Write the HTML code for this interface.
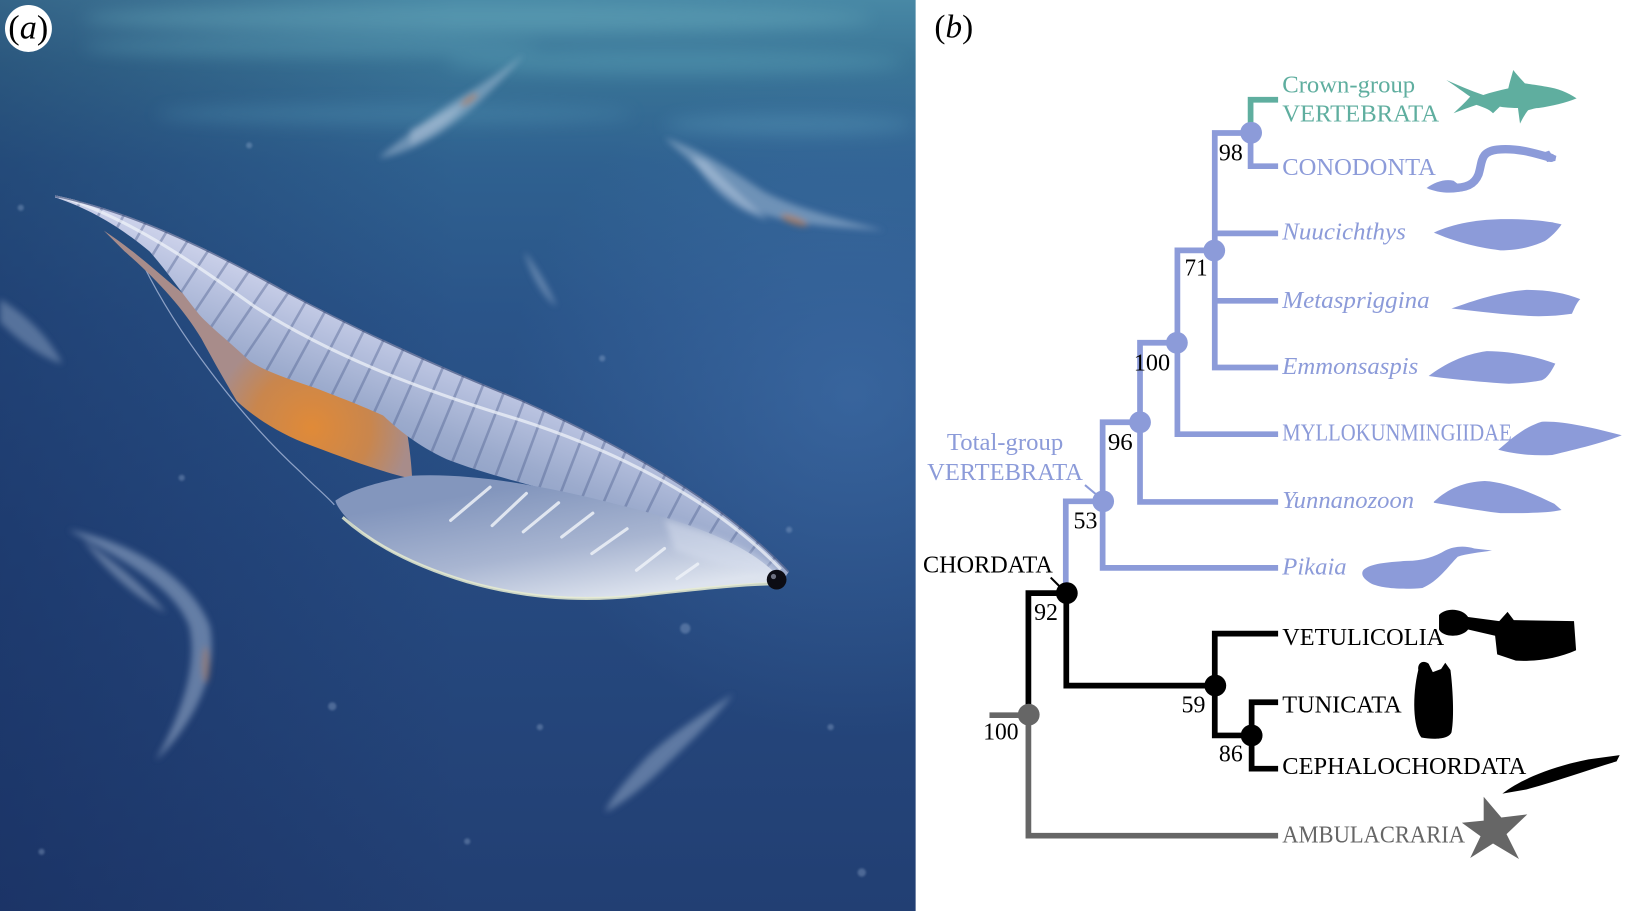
<!DOCTYPE html>
<html>
<head>
<meta charset="utf-8">
<style>
html,body{margin:0;padding:0;background:#fff;}
body{width:1628px;height:911px;overflow:hidden;}
svg{display:block;}
text{font-family:"Liberation Serif","Times New Roman",serif;}
</style>
</head>
<body>
<svg width="1628" height="911" viewBox="0 0 1568 877" preserveAspectRatio="none" xmlns="http://www.w3.org/2000/svg">
<defs>
  <linearGradient id="bg" x1="0" y1="0" x2="0" y2="1">
    <stop offset="0" stop-color="#4888a5"/>
    <stop offset="0.07" stop-color="#3a7597"/>
    <stop offset="0.18" stop-color="#2f6190"/>
    <stop offset="0.35" stop-color="#2a5489"/>
    <stop offset="0.6" stop-color="#264a80"/>
    <stop offset="1" stop-color="#223f73"/>
  </linearGradient>
  <linearGradient id="leftdark" x1="0" y1="0" x2="1" y2="0">
    <stop offset="0" stop-color="#0f2050" stop-opacity="0.35"/>
    <stop offset="0.5" stop-color="#0f2050" stop-opacity="0"/>
  </linearGradient>
  <radialGradient id="rightglow" cx="820" cy="380" r="330" gradientUnits="userSpaceOnUse">
    <stop offset="0" stop-color="#4a7cb8" stop-opacity="0.45"/>
    <stop offset="1" stop-color="#4a7cb8" stop-opacity="0"/>
  </radialGradient>
  <filter id="blur8" x="-50%" y="-50%" width="200%" height="200%"><feGaussianBlur stdDeviation="8"/></filter>
  <filter id="blur3" x="-50%" y="-50%" width="200%" height="200%"><feGaussianBlur stdDeviation="3"/></filter>
  <filter id="blur1" x="-20%" y="-20%" width="140%" height="140%"><feGaussianBlur stdDeviation="1"/></filter>
  <linearGradient id="bandg" x1="470" y1="330" x2="420" y2="460" gradientUnits="userSpaceOnUse">
    <stop offset="0" stop-color="#d3d7ee"/>
    <stop offset="0.35" stop-color="#b6c0de"/>
    <stop offset="0.7" stop-color="#9cabcd"/>
    <stop offset="1" stop-color="#8d9fc4"/>
  </linearGradient>
  <linearGradient id="lobeg" x1="520" y1="465" x2="540" y2="585" gradientUnits="userSpaceOnUse">
    <stop offset="0" stop-color="#8396bd"/>
    <stop offset="0.55" stop-color="#a8b5d1"/>
    <stop offset="1" stop-color="#dde3ee"/>
  </linearGradient>
  <radialGradient id="gutg" cx="300" cy="412" r="95" gradientUnits="userSpaceOnUse">
    <stop offset="0" stop-color="#e08a38"/>
    <stop offset="0.6" stop-color="#c9864d"/>
    <stop offset="1" stop-color="#a88c8a"/>
  </radialGradient>
  <clipPath id="bandclip">
    <path d="M53,188 C110,200 176,225 273,279 C340,315 420,352 500,384 C580,420 690,475 760,550 L752,562 C720,540 660,512 600,492 C540,474 470,458 430,442 C400,428 382,412 369,400 C340,387 320,380 305,374 C275,364 255,357 241,348 C220,328 205,317 192,303 C175,282 160,260 144,242 C120,222 90,202 53,190 Z"/>
  </clipPath>
</defs>

<!-- ============ PANEL A (painting) ============ -->
<rect x="0" y="0" width="882" height="877" fill="url(#bg)"/>
<rect x="0" y="0" width="882" height="877" fill="url(#leftdark)"/>
<rect x="0" y="0" width="882" height="877" fill="url(#rightglow)"/>
<g filter="url(#blur8)" opacity="0.38">
  <ellipse cx="460" cy="18" rx="380" ry="14" fill="#6fb3c2"/>
  <ellipse cx="300" cy="45" rx="220" ry="10" fill="#5ea3b8"/>
  <ellipse cx="650" cy="60" rx="220" ry="12" fill="#5ea6bc"/>
  <ellipse cx="380" cy="110" rx="230" ry="10" fill="#4f8fb0"/>
  <ellipse cx="760" cy="120" rx="120" ry="10" fill="#5b9cbb"/>
</g>
<g filter="url(#blur3)">
  <path d="M505,52 C480,72 452,88 430,102 C402,122 378,140 365,152 C380,150 402,142 424,128 C450,110 475,88 505,52 Z" fill="#b9cbe0" opacity="0.45"/>
  <path d="M395,125 C410,118 430,108 448,98 C440,112 420,128 395,140 Z" fill="#c6d3e6" opacity="0.4"/>
  <ellipse cx="452" cy="96" rx="10" ry="3" transform="rotate(-35 452 96)" fill="#c47a4a" opacity="0.6"/>
  <path d="M640,133 C660,150 690,180 720,200 C760,218 805,218 852,222 C805,210 765,200 735,184 C705,164 672,142 640,133 Z" fill="#b9cbe0" opacity="0.45"/>
  <path d="M665,150 C680,175 700,200 740,212 C720,195 700,175 680,155 Z" fill="#c8d5e8" opacity="0.45"/>
  <ellipse cx="765" cy="212" rx="14" ry="4" transform="rotate(20 765 212)" fill="#c47a4a" opacity="0.6"/>
  <path d="M66,510 C120,520 182,552 202,602 C212,652 182,702 150,732 C172,692 192,642 182,602 C166,562 112,536 66,510 Z" fill="#a8bcd8" opacity="0.5"/>
  <path d="M80,520 C110,540 140,565 160,590 C140,580 110,560 80,520 Z" fill="#c0cfe4" opacity="0.4"/>
  <ellipse cx="198" cy="640" rx="4" ry="18" fill="#b07a5a" opacity="0.5"/>
  <path d="M706,668 C672,690 642,710 622,730 C602,752 587,770 583,782 C602,772 622,756 642,736 C667,712 690,690 706,668 Z" fill="#a8bcd8" opacity="0.45"/>
  <path d="M505,242 C515,255 528,275 536,295 C522,285 510,262 505,242 Z" fill="#a8bcd8" opacity="0.45"/>
  <path d="M0,288 C20,300 45,320 60,350 C40,345 15,325 0,310 Z" fill="#a8bcd8" opacity="0.4"/>
</g>
<g fill="#9fb6d6" opacity="0.35" filter="url(#blur1)">
  <circle cx="240" cy="140" r="3"/><circle cx="580" cy="345" r="3"/><circle cx="660" cy="605" r="5"/>
  <circle cx="175" cy="460" r="3"/><circle cx="320" cy="680" r="4"/><circle cx="830" cy="840" r="4"/>
  <circle cx="760" cy="510" r="3"/><circle cx="20" cy="200" r="3"/><circle cx="450" cy="810" r="3"/>
  <circle cx="520" cy="700" r="3"/><circle cx="40" cy="820" r="3"/><circle cx="800" cy="700" r="3"/>
</g>

<!-- main creature -->
<path d="M138,255 C170,320 230,400 290,455 C305,470 315,478 322,486" fill="none" stroke="#a8b8d8" stroke-width="1.2" opacity="0.8"/>
<!-- orange gut (tucked under band) -->
<path d="M100,222 C135,245 162,272 188,292 C215,318 240,336 270,350 C310,362 350,375 388,392 C393,420 396,440 397,461 C370,455 337,443 300,429 C270,418 245,402 228,386 C219,371 207,350 194,326 C176,296 150,268 120,242 Z" fill="url(#gutg)"/>
<!-- band -->
<path d="M53,188 C110,200 176,225 273,279 C340,315 420,352 500,384 C580,420 690,475 760,550 L752,562 C720,540 660,512 600,492 C540,474 470,458 430,442 C400,428 382,412 369,400 C340,387 320,380 305,374 C275,364 255,357 241,348 C220,328 205,317 192,303 C175,282 160,260 144,242 C120,222 90,202 53,190 Z" fill="url(#bandg)"/>
<g clip-path="url(#bandclip)">
  <path d="M55,188 C130,218 200,268 262,310 C332,352 420,392 530,432 C620,465 700,505 752,552" fill="none" stroke="#4a5d8c" stroke-opacity="0.4" stroke-width="120" stroke-dasharray="2.5 19"/>
  <path d="M55,188 C125,210 185,252 245,295 C315,340 400,374 500,404 C600,436 690,484 752,548" fill="none" stroke="#eef1f8" stroke-opacity="0.75" stroke-width="3"/>
  <path d="M53,188 C110,200 176,225 273,279 C340,315 420,352 500,384 C580,420 690,475 760,550" fill="none" stroke="#2d3f6e" stroke-opacity="0.6" stroke-width="3"/>
</g>
<!-- pale ventral lobe -->
<path d="M323,482 C340,470 370,463 396,458 C450,455 520,466 600,487 C680,507 730,530 754,560 C720,562 680,566 626,572 C580,578 520,580 450,560 C400,545 360,525 340,505 C330,495 324,487 323,482 Z" fill="url(#lobeg)"/>
<path d="M330,498 C360,525 400,545 450,560 C520,580 580,578 626,572 C680,566 720,562 750,562" fill="none" stroke="#e7ecd0" stroke-width="3" opacity="0.85"/>
<path d="M640,500 C690,515 730,530 756,556 C730,552 690,545 650,530 Z" fill="#d5dded" opacity="0.55" filter="url(#blur3)"/>
<g stroke="#eef2f8" stroke-width="3" stroke-linecap="round" opacity="0.85">
  <line x1="434" y1="501" x2="472" y2="469"/>
  <line x1="474" y1="506" x2="507" y2="475"/>
  <line x1="504" y1="512" x2="538" y2="484"/>
  <line x1="541" y1="517" x2="571" y2="494"/>
  <line x1="570" y1="533" x2="604" y2="509"/>
  <line x1="613" y1="549" x2="640" y2="528"/>
  <line x1="652" y1="557" x2="672" y2="543"/>
</g>
<circle cx="748" cy="558" r="9.5" fill="#0c0c14"/>
<circle cx="745" cy="555" r="2.5" fill="#6d7080"/>

<!-- (a) label -->
<circle cx="27.4" cy="27.4" r="22.6" fill="#ffffff"/>
<text x="8" y="37" font-size="33" fill="#000">(<tspan font-style="italic">a</tspan>)</text>

<!-- ============ PANEL B (tree) ============ -->
<rect x="882" y="0" width="686" height="877" fill="#ffffff"/>
<text x="900" y="36" font-size="32" fill="#000">(<tspan font-style="italic">b</tspan>)</text>

<g fill="none" stroke-width="5.5" stroke-linejoin="miter" stroke-linecap="butt">
  <path d="M1204.5,128 V96 H1231" stroke="#5fae9f"/>
  <g stroke="#8c9bd9">
    <path d="M1204.5,128 V160 H1231"/>
    <path d="M1205,128 H1170 V353.8 H1231"/>
    <path d="M1170,224.7 H1231"/>
    <path d="M1170,289.6 H1231"/>
    <path d="M1170,241 H1134 V418 H1231"/>
    <path d="M1134,330 H1098 V483.2 H1231"/>
    <path d="M1098,406.5 H1062 V546.7 H1231"/>
    <path d="M1062.5,482.6 H1026.5 V571"/>
  </g>
  <g stroke="#000">
    <path d="M1027,571 V660 H1170"/>
    <path d="M1231,610 H1170 V708 H1205.5"/>
    <path d="M1231,676 H1205.5 V740 H1231"/>
    <path d="M1027,571 H990.5 V688"/>
  </g>
  <path d="M953,688.5 H990.5 V804.5 H1231" stroke="#666666"/>
</g>
<line x1="1045" y1="467" x2="1057" y2="477" stroke="#8c9bd9" stroke-width="2"/>
<line x1="1012" y1="556" x2="1021" y2="565" stroke="#000" stroke-width="2"/>

<g fill="#8c9bd9">
  <circle cx="1205" cy="127.8" r="10.5"/>
  <circle cx="1169.5" cy="241.2" r="10.5"/>
  <circle cx="1133.5" cy="330" r="10.5"/>
  <circle cx="1098" cy="406.5" r="10.5"/>
  <circle cx="1062.5" cy="482.6" r="10.5"/>
</g>
<g fill="#000">
  <circle cx="1027.5" cy="571" r="10.5"/>
  <circle cx="1170.5" cy="660" r="10.5"/>
  <circle cx="1205.5" cy="708" r="10.5"/>
</g>
<circle cx="990.8" cy="688" r="10.5" fill="#666666"/>

<g font-size="23" fill="#000">
  <text x="1174" y="154.5" textLength="23" lengthAdjust="spacingAndGlyphs">98</text>
  <text x="1141" y="265" textLength="22" lengthAdjust="spacingAndGlyphs">71</text>
  <text x="1092" y="356.5" textLength="35" lengthAdjust="spacingAndGlyphs">100</text>
  <text x="1067" y="433" textLength="24" lengthAdjust="spacingAndGlyphs">96</text>
  <text x="1034" y="509" textLength="23" lengthAdjust="spacingAndGlyphs">53</text>
  <text x="996" y="597" textLength="23" lengthAdjust="spacingAndGlyphs">92</text>
  <text x="1138" y="686" textLength="23" lengthAdjust="spacingAndGlyphs">59</text>
  <text x="1174" y="733" textLength="23" lengthAdjust="spacingAndGlyphs">86</text>
  <text x="947" y="712" textLength="34" lengthAdjust="spacingAndGlyphs">100</text>
</g>

<g font-size="23">
  <text x="912" y="433" fill="#8c9bd9" textLength="112" lengthAdjust="spacingAndGlyphs">Total-group</text>
  <text x="893" y="462" fill="#8c9bd9" textLength="150" lengthAdjust="spacingAndGlyphs">VERTEBRATA</text>
  <text x="889" y="551" fill="#000" textLength="125" lengthAdjust="spacingAndGlyphs">CHORDATA</text>
</g>

<g font-size="23">
  <text x="1235" y="89" fill="#5fae9f" textLength="128" lengthAdjust="spacingAndGlyphs">Crown-group</text>
  <text x="1235" y="117" fill="#5fae9f" textLength="151" lengthAdjust="spacingAndGlyphs">VERTEBRATA</text>
  <text x="1235" y="168.5" fill="#8c9bd9" textLength="148" lengthAdjust="spacingAndGlyphs">CONODONTA</text>
  <text x="1235" y="230.5" fill="#8c9bd9" font-style="italic" textLength="119" lengthAdjust="spacingAndGlyphs">Nuucichthys</text>
  <text x="1235" y="296.5" fill="#8c9bd9" font-style="italic" textLength="142" lengthAdjust="spacingAndGlyphs">Metaspriggina</text>
  <text x="1235" y="360" fill="#8c9bd9" font-style="italic" textLength="131" lengthAdjust="spacingAndGlyphs">Emmonsaspis</text>
  <text x="1235" y="424" fill="#8c9bd9" textLength="221" lengthAdjust="spacingAndGlyphs">MYLLOKUNMINGIIDAE</text>
  <text x="1235" y="489" fill="#8c9bd9" font-style="italic" textLength="127" lengthAdjust="spacingAndGlyphs">Yunnanozoon</text>
  <text x="1235" y="553" fill="#8c9bd9" font-style="italic" textLength="62" lengthAdjust="spacingAndGlyphs">Pikaia</text>
  <text x="1235" y="621" fill="#000" textLength="156" lengthAdjust="spacingAndGlyphs">VETULICOLIA</text>
  <text x="1235" y="686" fill="#000" textLength="115" lengthAdjust="spacingAndGlyphs">TUNICATA</text>
  <text x="1235" y="745" fill="#000" textLength="235" lengthAdjust="spacingAndGlyphs">CEPHALOCHORDATA</text>
  <text x="1235" y="811" fill="#666666" textLength="176" lengthAdjust="spacingAndGlyphs">AMBULACRARIA</text>
</g>

<!-- silhouettes -->
<path fill="#5fae9f" d="M1393,77 C1402,83 1410,89 1416,93 C1411,99 1405,104 1400,109 C1408,106 1416,103 1422,101 C1428,103 1434,105 1438,109 L1444.6,102.7 C1452,104 1458,104 1462,104 L1464,119 C1467,113 1470,108 1472,106 C1476,105 1479,104 1482,104 C1495,102 1508,99 1518.5,94.7 C1510,89 1500,85 1489.6,83.5 C1482,82 1474,81 1468.7,80.3 C1464,75 1460,71 1457.5,67.4 C1456,73 1454,79 1452.7,85.1 C1444,87 1436,89 1428.6,91.5 C1416,87 1404,82 1393,77 Z"/>
<path d="M1398,181 C1412,181 1420,178 1424,168 C1428,156 1425,146 1442,144 C1462,142 1480,148 1494,152" fill="none" stroke="#8c9bd9" stroke-width="8" stroke-linecap="round"/>
<path fill="#8c9bd9" d="M1374,181 C1382,175 1392,172 1400,174 L1412,183 C1400,187 1385,186 1374,181 Z"/>
<path fill="#8c9bd9" d="M1486,147 L1492,145 L1494,148 L1499,150 L1498,155 L1490,156 Z"/>
<path fill="#8c9bd9" d="M1381,224 C1400,215 1425,211 1450,211 C1475,211 1492,213 1504,216 C1500,222 1494,228 1488,232 C1475,238 1460,241 1445,241 C1420,238 1400,232 1381,224 Z"/>
<path fill="#8c9bd9" d="M1398,297 C1420,289 1445,281 1470,279 C1490,279 1508,282 1522,288 C1518,292 1516,298 1514,302 C1500,304 1485,305 1470,304 C1450,303 1425,300 1398,297 Z"/>
<path fill="#8c9bd9" d="M1376,362 C1392,350 1410,341 1432,338 C1455,338 1478,343 1498,350 C1494,358 1490,364 1485,366 C1470,369 1455,370 1445,369 C1420,367 1396,365 1376,362 Z"/>
<path fill="#8c9bd9" d="M1443,433 C1455,423 1468,411 1485,406 C1505,405 1535,412 1562,419 C1545,426 1520,432 1495,438 C1475,439 1458,437 1443,433 Z"/>
<path fill="#8c9bd9" d="M1381,483 C1395,470 1410,464 1430,463 C1450,464 1475,474 1497,485 L1504,491 C1490,494 1470,494 1445,494 C1420,491 1400,487 1381,484 Z"/>
<path fill="#8c9bd9" d="M1313,549 C1318,543 1335,541 1355,540 C1370,540 1382,536 1392,530 C1400,526 1410,525 1420,528 L1437,530 C1425,532 1412,533 1404,536 C1395,545 1385,560 1370,566 C1350,568 1325,566 1318,560 C1312,556 1311,552 1313,549 Z"/>
<path fill="#000" d="M1386,592 C1392,585 1408,585 1414,594 L1444,598 L1452,589 L1458,597 L1516,598 L1518,626 C1500,634 1480,637 1460,636 L1442,630 L1440,612 L1414,606 C1408,614 1390,614 1386,606 Z"/>
<path fill="#000" d="M1366,645 C1365,638 1371,635 1376,639 L1380,647 L1388,644 L1392,638 L1397,645 C1399,660 1401,690 1398,705 C1395,712 1380,712 1369,710 C1361,700 1360,670 1366,645 Z"/>
<path fill="#000" d="M1447,764 C1465,750 1495,738 1530,731 L1560,727 L1557,733 C1530,741 1500,752 1470,760 Z"/>
<polygon fill="#666666" points="1429,767 1446,787 1471,784 1451,803 1463,827 1438,812 1416,826 1426,805 1408,792 1429,790"/>
</svg>
</body>
</html>
